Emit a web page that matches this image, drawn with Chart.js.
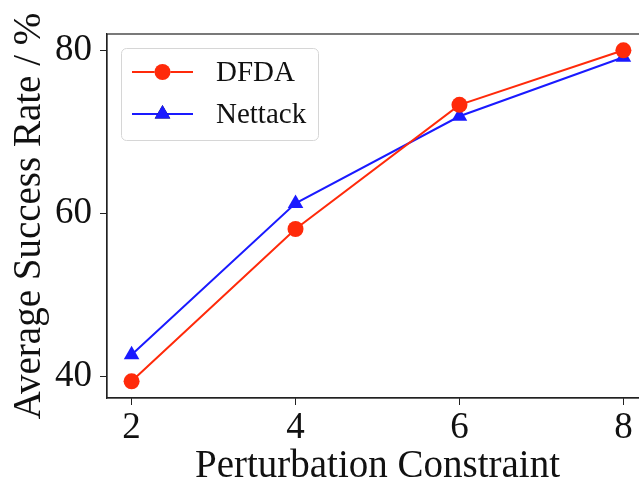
<!DOCTYPE html>
<html>
<head>
<meta charset="utf-8">
<script src="https://cdn.jsdelivr.net/npm/chart.js@4/dist/chart.umd.min.js"></script>
<style>
  html, body { margin: 0; padding: 0; background: #fff; overflow: hidden; }
  #chart { display: block; }
</style>
</head>
<body>
<canvas id="chart" width="660" height="485"></canvas>
<script>
  // values
  const constraints = [2, 4, 6, 8];
  const dfda = [39.35, 58.05, 73.3, 80.0];
  const nettack = [42.6, 61.2, 71.9, 79.15];
  const xTicks = [2, 4, 6, 8];
  const yTicks = [40, 60, 80];

  const RED = '#ff2a0a';
  const BLUE = '#1a1aff';
  const FONT = "'Liberation Serif', 'Times New Roman', serif";

  const toPts = ys => constraints.map((x, i) => ({ x, y: ys[i] }));

  // legend + top/right frame, drawn in canvas
  const framePlugin = {
    id: 'frame',
    afterDraw(chart) {
      const { ctx, chartArea: a } = chart;
      ctx.save();
      ctx.strokeStyle = '#222';
      ctx.lineWidth = 1.2;
      ctx.strokeRect(a.left, a.top, a.right - a.left, a.bottom - a.top);

      // legend box
      const bx = 121.5, by = 48.5, bw = 197, bh = 92, r = 5;
      ctx.beginPath();
      ctx.roundRect(bx, by, bw, bh, r);
      ctx.fillStyle = 'rgba(255,255,255,0.8)';
      ctx.fill();
      ctx.strokeStyle = '#d6d6d6';
      ctx.lineWidth = 1;
      ctx.stroke();

      const rows = [72, 114];
      chart.data.datasets.forEach((ds, i) => {
        const y = rows[i];
        ctx.strokeStyle = ds.borderColor;
        ctx.lineWidth = ds.borderWidth;
        ctx.beginPath();
        ctx.moveTo(132, y);
        ctx.lineTo(193, y);
        ctx.stroke();
        Chart.helpers.drawPoint(ctx, {
          pointStyle: ds.pointStyle, radius: ds.pointRadius,
          borderWidth: 0, rotation: 0
        }, 162.5, y);
        ctx.fillStyle = ds.pointBackgroundColor;
        ctx.fill();
        ctx.fillStyle = '#111';
        ctx.font = '29px ' + FONT;
        ctx.textBaseline = 'middle';
        ctx.textAlign = 'left';
        ctx.fillText(ds.label, 216, y + 1);
      });
      ctx.restore();
    }
  };

  new Chart(document.getElementById('chart'), {
    type: 'line',
    data: {
      datasets: [
        {
          label: 'DFDA', data: toPts(dfda),
          borderColor: RED, backgroundColor: RED, pointBackgroundColor: RED,
          borderWidth: 2, pointStyle: 'circle', pointRadius: 8, pointBorderWidth: 0
        },
        {
          label: 'Nettack', data: toPts(nettack),
          borderColor: BLUE, backgroundColor: BLUE, pointBackgroundColor: BLUE,
          borderWidth: 2, pointStyle: 'triangle', pointRadius: 9, pointBorderWidth: 0
        }
      ]
    },
    options: {
      responsive: false,
      animation: false,
      layout: { padding: { top: 34, right: 12, left: 0, bottom: 0 } },
      plugins: { legend: { display: false }, tooltip: { enabled: false } },
      scales: {
        x: {
          type: 'linear', min: 1.7, max: 8.3,
          afterBuildTicks: s => { s.ticks = xTicks.map(v => ({ value: v })); },
          afterFit: s => { s.height = 87; },
          border: { display: true, color: '#222', width: 1.2 },
          grid: { display: true, drawOnChartArea: false, drawTicks: true, tickLength: 7, color: '#222' },
          ticks: { color: '#111', font: { family: FONT, size: 37 }, padding: 1, maxRotation: 0 },
          title: { display: true, text: 'Perturbation Constraint', color: '#111',
                   font: { family: FONT, size: 39 }, padding: { top: 0, bottom: -5 } }
        },
        y: {
          type: 'linear', min: 37.3, max: 82.0,
          afterBuildTicks: s => { s.ticks = yTicks.map(v => ({ value: v })); },
          afterFit: s => { s.width = 107; },
          border: { display: true, color: '#222', width: 1.2 },
          grid: { display: true, drawOnChartArea: false, drawTicks: true, tickLength: 7, color: '#222' },
          ticks: { color: '#111', font: { family: FONT, size: 37 }, padding: 8 },
          title: { display: true, text: 'Average Success Rate / %', color: '#111',
                   font: { family: FONT, size: 39 }, padding: { top: 6, bottom: 0 } }
        }
      }
    },
    plugins: [framePlugin]
  });
</script>
</body>
</html>
